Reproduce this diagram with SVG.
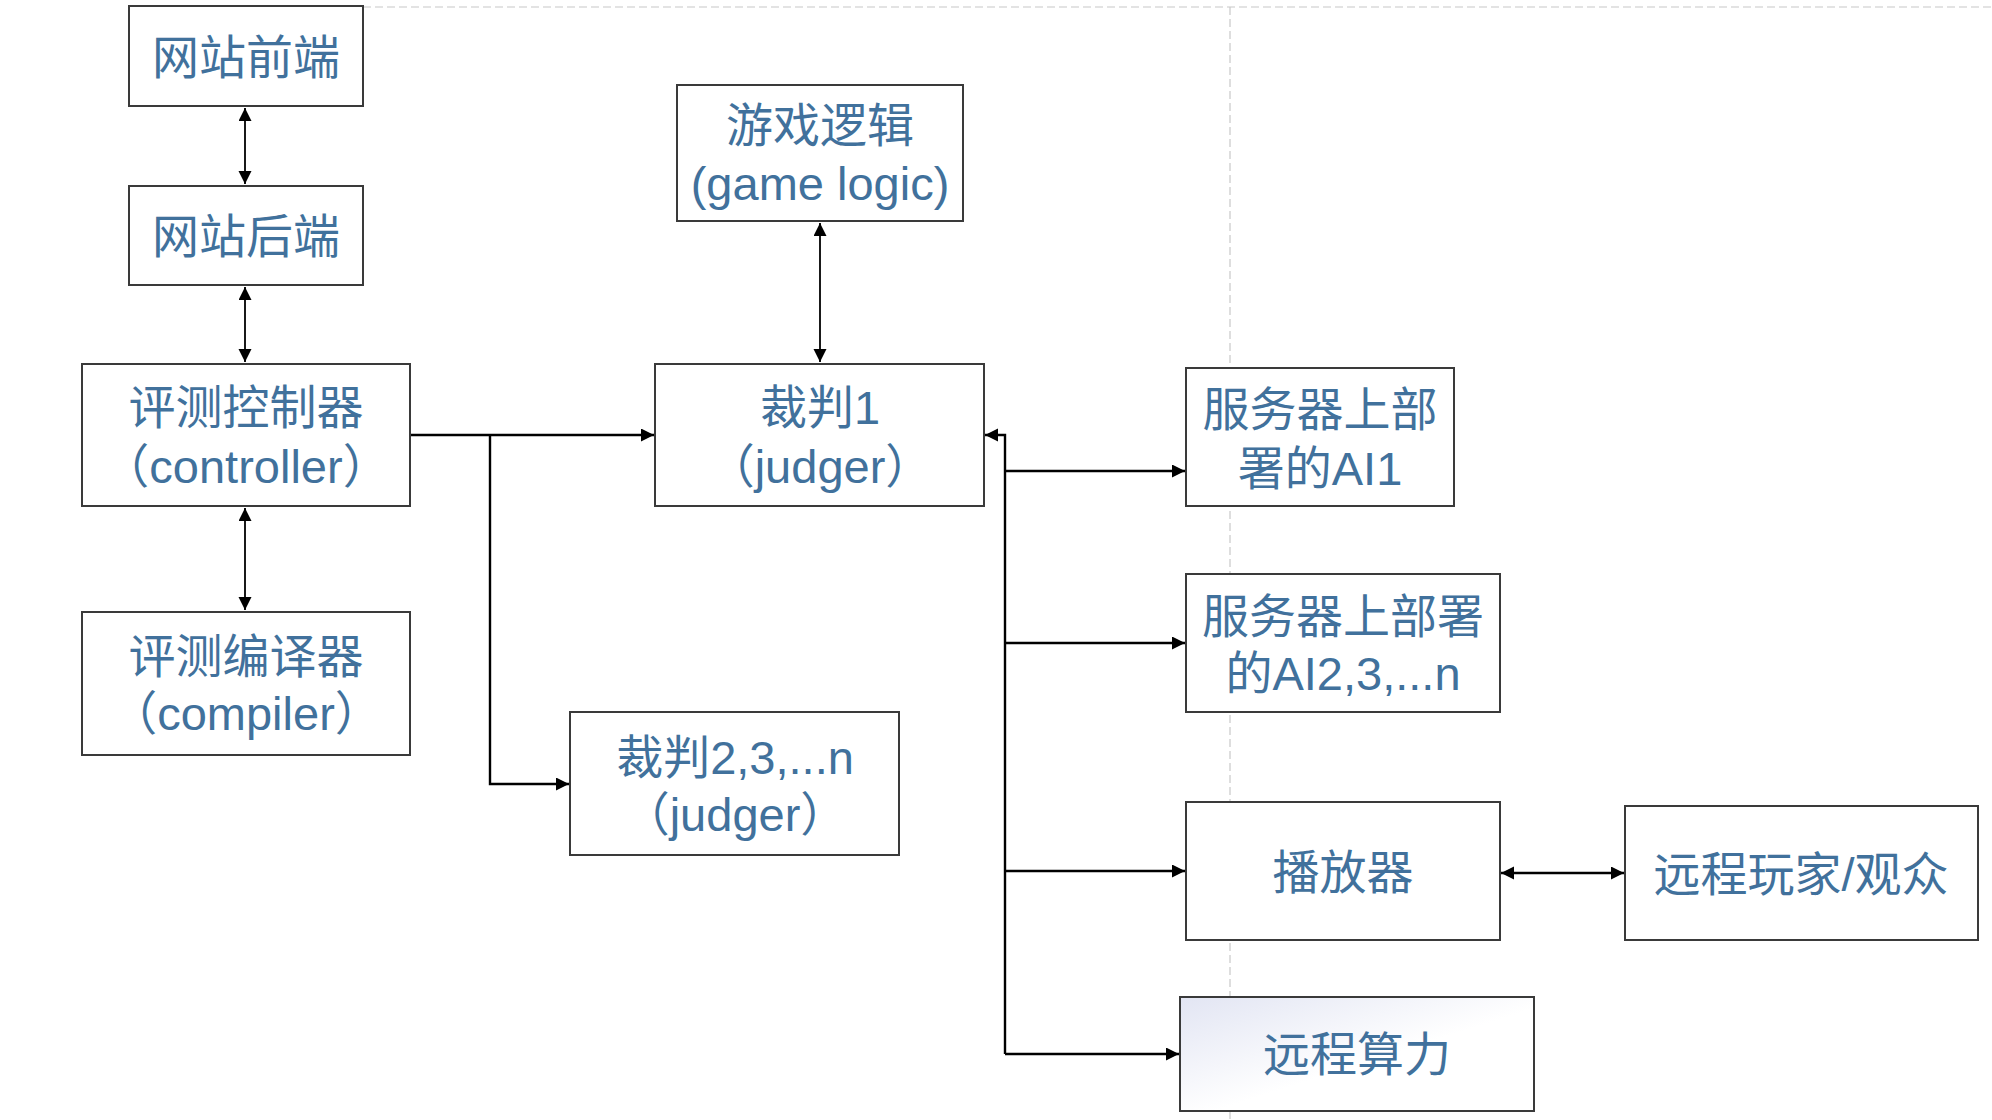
<svg xmlns="http://www.w3.org/2000/svg" width="1992" height="1120" viewBox="0 0 1992 1120">
<style>
.box{fill:#fff;stroke:#3a3a3a;stroke-width:2}
.t{font-family:"Liberation Sans","Noto Sans CJK SC",sans-serif;font-size:47px;fill:#41719c;text-anchor:middle}
.c{fill:none;stroke:#000;stroke-width:2.4}
.v{fill:none;stroke:#000;stroke-width:1.8}
.guide{fill:none;stroke:#c8c8c8;stroke-width:1.2;stroke-dasharray:8 4}
</style>
<defs>
<marker id="ah" markerUnits="userSpaceOnUse" markerWidth="14" markerHeight="14" refX="13" refY="6.5" orient="auto-start-reverse">
<path d="M0,0 L13,6.5 L0,13 z" fill="#000"/>
</marker>
<linearGradient id="gr" x1="0" y1="0" x2="1" y2="1">
<stop offset="0" stop-color="#e2e5f3"/>
<stop offset="0.55" stop-color="#ffffff"/>
</linearGradient>
</defs>
<rect width="1992" height="1120" fill="#fff"/>
<g id="guides">
<path class="guide" d="M363,7 H1992"/>
<path class="guide" d="M1230,7 V1120"/>
</g>
<g id="connectors">
<path class="v" d="M245,108 V184" marker-start="url(#ah)" marker-end="url(#ah)"/>
<path class="v" d="M245,287 V362" marker-start="url(#ah)" marker-end="url(#ah)"/>
<path class="v" d="M245,508 V610" marker-start="url(#ah)" marker-end="url(#ah)"/>
<path class="v" d="M820,223 V362" marker-start="url(#ah)" marker-end="url(#ah)"/>
<path class="c" d="M411,435 H654" marker-end="url(#ah)"/>
<path class="c" d="M490,435 V784 H569" marker-end="url(#ah)"/>
<path class="c" d="M1005,1054 V435 H985" marker-end="url(#ah)"/>
<path class="c" d="M1005,471 H1185" marker-end="url(#ah)"/>
<path class="c" d="M1005,643 H1185" marker-end="url(#ah)"/>
<path class="c" d="M1005,871 H1185" marker-end="url(#ah)"/>
<path class="c" d="M1005,1054 H1179" marker-end="url(#ah)"/>
<path class="c" d="M1501,873 H1624" marker-start="url(#ah)" marker-end="url(#ah)"/>
</g>
<g id="web-frontend">
<rect class="box" x="129" y="6" width="234" height="100"/>
<text class="t" x="246" y="74">网站前端</text>
</g>
<g id="web-backend">
<rect class="box" x="129" y="186" width="234" height="99"/>
<text class="t" x="246" y="253">网站后端</text>
</g>
<g id="controller">
<rect class="box" x="82" y="364" width="328" height="142"/>
<text class="t" x="246" y="424">评测控制器</text>
<text class="t" x="246" y="483">（controller）</text>
</g>
<g id="compiler">
<rect class="box" x="82" y="612" width="328" height="143"/>
<text class="t" x="246" y="673">评测编译器</text>
<text class="t" x="246" y="730">（compiler）</text>
</g>
<g id="game-logic">
<rect class="box" x="677" y="85" width="286" height="136"/>
<text class="t" x="820" y="142">游戏逻辑</text>
<text class="t" x="820" y="200">(game logic)</text>
</g>
<g id="judger1">
<rect class="box" x="655" y="364" width="329" height="142"/>
<text class="t" x="820" y="424">裁判1</text>
<text class="t" x="820" y="483">（judger）</text>
</g>
<g id="judger2n">
<rect class="box" x="570" y="712" width="329" height="143"/>
<text class="t" x="735" y="774">裁判2,3,...n</text>
<text class="t" x="735" y="831">（judger）</text>
</g>
<g id="ai1">
<rect class="box" x="1186" y="368" width="268" height="138"/>
<text class="t" x="1320" y="426">服务器上部</text>
<text class="t" x="1320" y="485">署的AI1</text>
</g>
<g id="ai2n">
<rect class="box" x="1186" y="574" width="314" height="138"/>
<text class="t" x="1343" y="633">服务器上部署</text>
<text class="t" x="1343" y="690">的AI2,3,...n</text>
</g>
<g id="player">
<rect class="box" x="1186" y="802" width="314" height="138"/>
<text class="t" x="1343" y="889">播放器</text>
</g>
<g id="remote-users">
<rect class="box" x="1625" y="806" width="353" height="134"/>
<text class="t" x="1801" y="891">远程玩家/观众</text>
</g>
<g id="remote-compute">
<rect class="box" x="1180" y="997" width="354" height="114" style="fill:url(#gr)"/>
<text class="t" x="1357" y="1071">远程算力</text>
</g>
</svg>
